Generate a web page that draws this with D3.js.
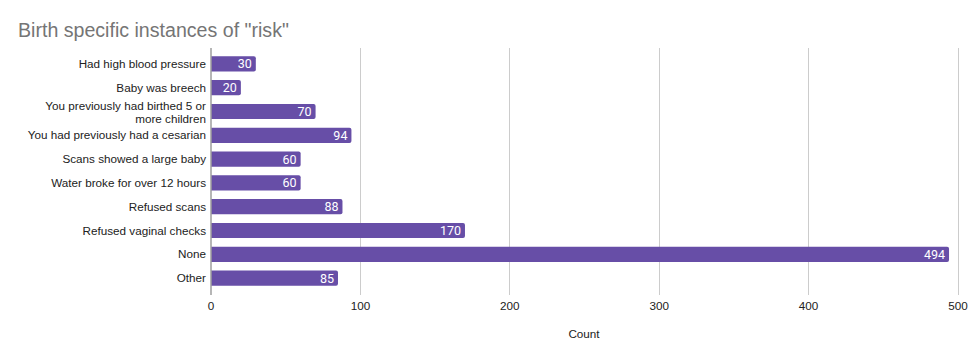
<!DOCTYPE html>
<html><head><meta charset="utf-8">
<script src="https://cdn.jsdelivr.net/npm/d3@7"></script>
<style>body{margin:0;background:#fff;}</style>
</head><body>
<svg id="c" width="976" height="360"></svg>
<script>
const categories = ["Had high blood pressure","Baby was breech","You previously had birthed 5 or more children","You had previously had a cesarian","Scans showed a large baby","Water broke for over 12 hours","Refused scans","Refused vaginal checks","None","Other"];
const values = [30,20,70,94,60,60,88,170,494,85];
const xTicks = [0,100,200,300,400,500];
const title = 'Birth specific instances of "risk"';
const xLabel = "Count";

const FONT = "'Liberation Sans', Arial, sans-serif";
const svg = d3.select("#c");
const x = d3.scaleLinear().domain([0,500]).range([211,958]);
const y = d3.scaleBand().domain(categories).range([52,290]).paddingInner(0.36).paddingOuter(0.18);

svg.append("text").attr("x",18).attr("y",37).style("font-family",FONT)
  .attr("font-size",19.6).attr("fill","#757575").text(title);

// gridlines
svg.append("g").selectAll("line").data(xTicks.slice(1)).join("line")
  .attr("x1",d=>x(d)).attr("x2",d=>x(d)).attr("y1",48).attr("y2",295)
  .attr("stroke","#cccccc").attr("stroke-width",1).attr("shape-rendering","crispEdges");

// bars
svg.append("g").selectAll("path").data(values).join("path")
  .attr("d",(d,i)=>{
    const x0=x(0), x1=x(d), y0=y(categories[i]), h=y.bandwidth(), r=2;
    return `M${x0},${y0}H${x1-r}Q${x1},${y0} ${x1},${y0+r}V${y0+h-r}Q${x1},${y0+h} ${x1-r},${y0+h}H${x0}Z`;
  })
  .attr("fill","#674ea7");

// axis baseline
svg.append("line").attr("x1",x(0)).attr("x2",x(0)).attr("y1",48).attr("y2",295)
  .attr("stroke","#9e9e9e").attr("stroke-width",1.5);

// value labels
svg.append("g").selectAll("text").data(values).join("text")
  .attr("x",d=>x(d)-4).attr("y",(d,i)=>y(categories[i])+y.bandwidth()/2)
  .attr("dy","0.36em").attr("text-anchor","end")
  .style("font-family","Roboto, Arial, sans-serif").attr("font-size",12.5).attr("fill","#fff")
  .text(d=>d);

// category labels
const catG = svg.append("g");
categories.forEach((c,i)=>{
  const cy = y(c)+y.bandwidth()/2;
  const t = catG.append("text").attr("x",206).attr("text-anchor","end")
    .style("font-family",FONT).attr("font-size",11.7).attr("fill","#222");
  if (c === "You previously had birthed 5 or more children") {
    t.append("tspan").attr("x",206).attr("y",cy-2).text("You previously had birthed 5 or");
    t.append("tspan").attr("x",206).attr("y",cy+11).text("more children");
  } else {
    t.attr("y",cy).attr("dy","0.35em").text(c);
  }
});

// x tick labels
svg.append("g").selectAll("text").data(xTicks).join("text")
  .attr("x",d=>x(d)).attr("y",310).attr("text-anchor","middle")
  .style("font-family",FONT).attr("font-size",11.7).attr("fill","#222")
  .text(d=>d);

svg.append("text").attr("x",584).attr("y",338).attr("text-anchor","middle")
  .style("font-family",FONT).attr("font-size",11.7).attr("fill","#222").text(xLabel);
</script>
</body></html>
